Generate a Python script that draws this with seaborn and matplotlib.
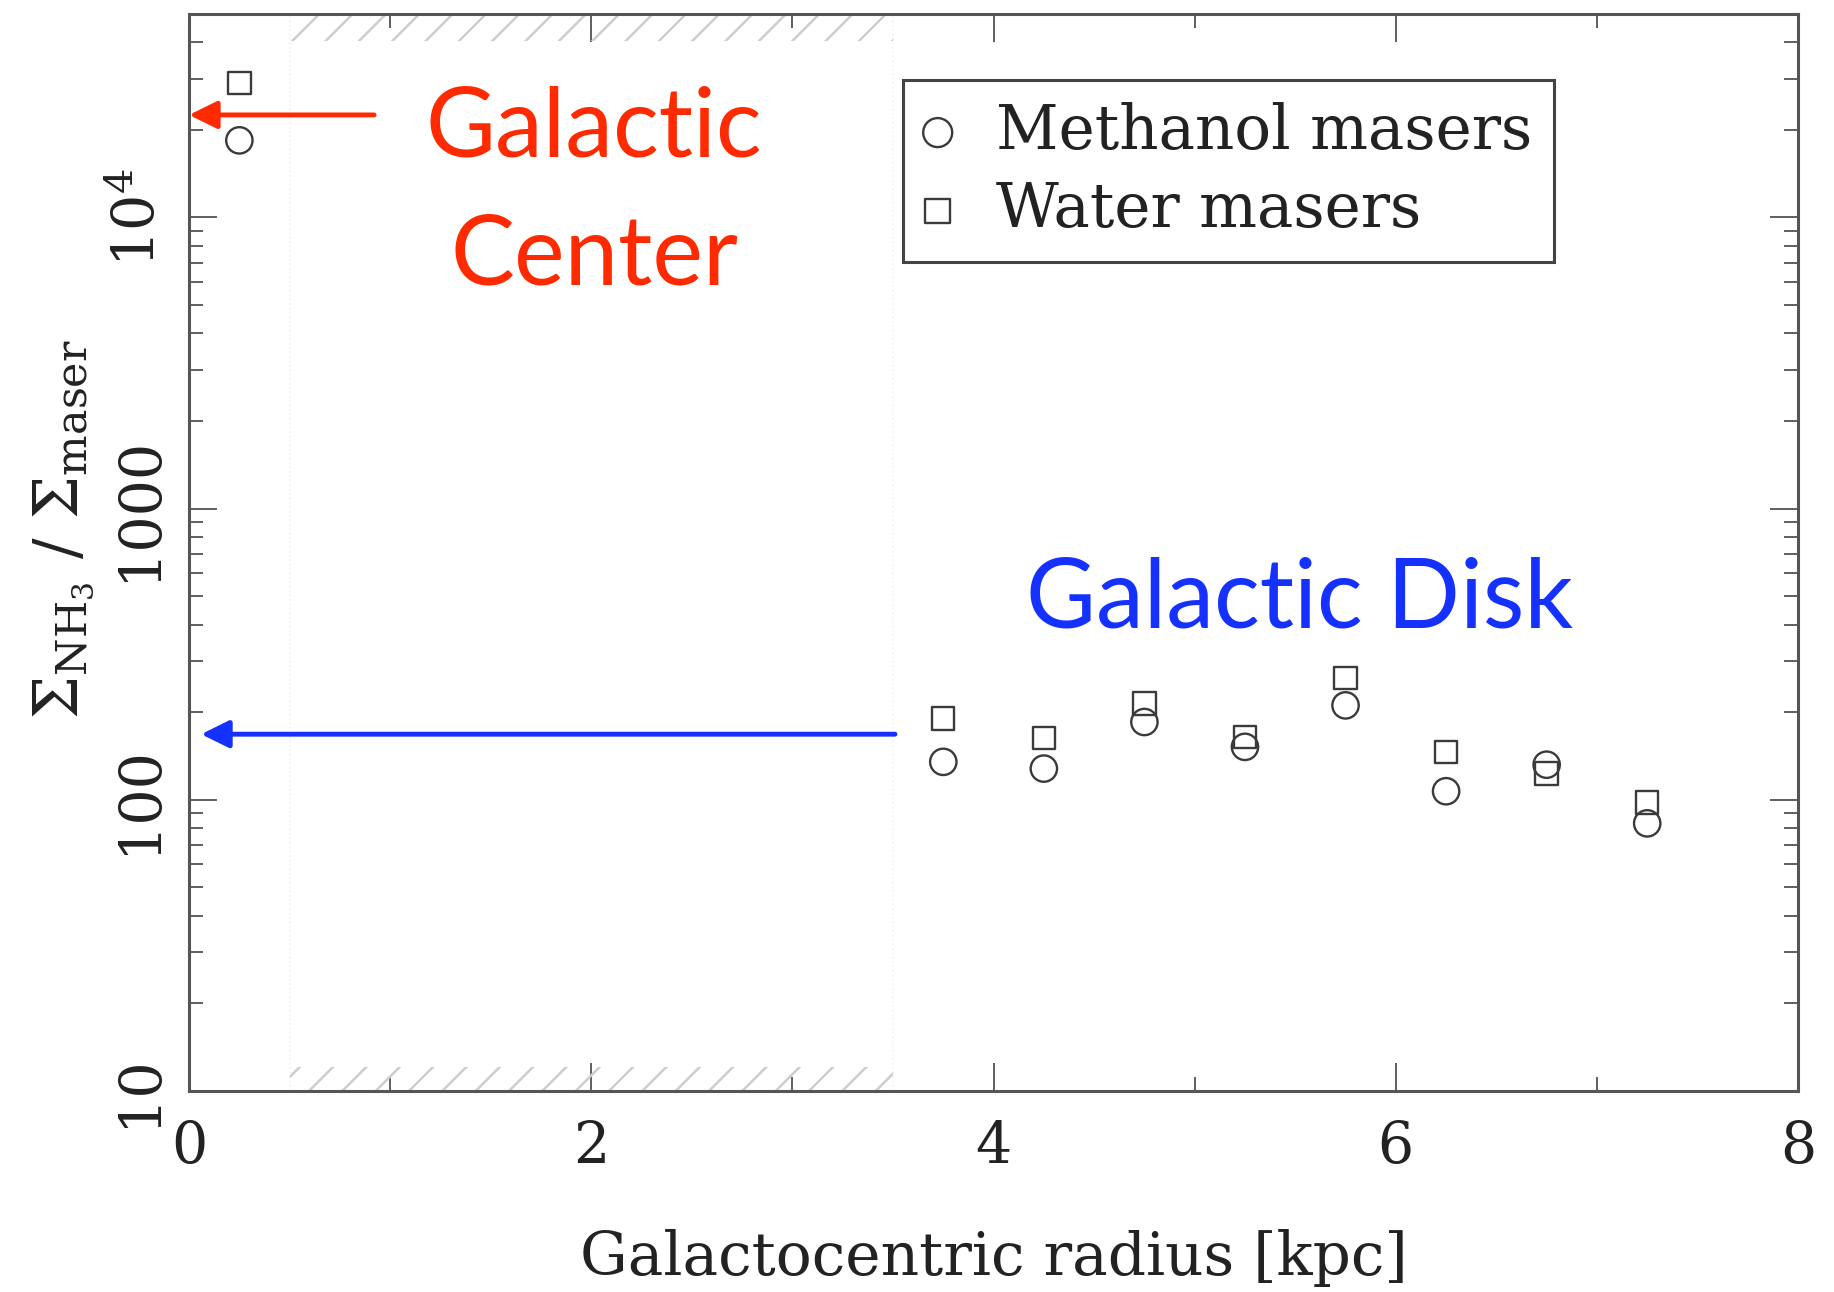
import numpy as np
import pandas as pd
import matplotlib
matplotlib.use("Agg")
import matplotlib.pyplot as plt
from matplotlib.ticker import FixedLocator, LogLocator, NullFormatter, FixedFormatter
import seaborn as sns

# ---- data ----
radius = [0.25, 3.75, 4.25, 4.75, 5.25, 5.75, 6.25, 6.75, 7.25]
methanol_ratio = [18400, 135, 128, 185, 152, 211, 107, 132, 83]
water_ratio = [29000, 190, 163, 214, 164, 262, 146, 123, 98]
series_labels = ["Methanol masers", "Water masers"]
x_ticks = [0, 2, 4, 6, 8]
x_tick_labels = ["0", "2", "4", "6", "8"]
y_ticks = [10, 100, 1000, 10000]
y_tick_labels = ["10", "100", "1000", r"10$^4$"]
gc_arrow_y = 22500
disk_arrow_y = 168

df_m = pd.DataFrame({"r": radius, "ratio": methanol_ratio})
df_w = pd.DataFrame({"r": radius, "ratio": water_ratio})

sns.set_theme(style="ticks")
plt.rcParams["font.family"] = ["DejaVu Serif"]
plt.rcParams["mathtext.fontset"] = "dejavuserif"
plt.rcParams["hatch.linewidth"] = 1.8

fig = plt.figure(figsize=(18.34, 12.92), dpi=100)
fig.patch.set_facecolor("white")
ax = fig.add_axes([0.1031, 0.1556, 0.8773, 0.8336])
ax.set_facecolor("white")

ink = "#3a3a3a"
sns.scatterplot(data=df_m, x="r", y="ratio", ax=ax, marker="o", s=360,
                facecolor="none", edgecolor=ink, linewidth=1.7,
                label=series_labels[0], legend=False, zorder=5)
sns.scatterplot(data=df_w, x="r", y="ratio", ax=ax, marker="s", s=260,
                facecolor="none", edgecolor=ink, linewidth=1.7,
                label=series_labels[1], legend=False, zorder=5)

ax.set_yscale("log")
ax.set_xlim(0, 8)
ax.set_ylim(10, 5e4)

# hatched bands and faint boundaries
hatch_grey = "#cdcdcd"
ax.axvspan(0.5, 3.5, ymin=0.975, ymax=1.0, facecolor="none", edgecolor=hatch_grey,
           hatch="/", lw=0, zorder=1)
ax.axvspan(0.5, 3.5, ymin=0.0, ymax=0.022, facecolor="none", edgecolor=hatch_grey,
           hatch="/", lw=0, zorder=1)
for xv in (0.5, 3.5):
    ax.axvline(xv, color="#f2f2f2", lw=1.2, ls=":", zorder=0)

# ticks
ax.xaxis.set_major_locator(FixedLocator(x_ticks))
ax.xaxis.set_major_formatter(FixedFormatter(x_tick_labels))
ax.xaxis.set_minor_locator(FixedLocator([1, 3, 5, 7]))
ax.yaxis.set_major_locator(FixedLocator(y_ticks))
ax.yaxis.set_major_formatter(FixedFormatter(y_tick_labels))
ax.yaxis.set_minor_locator(LogLocator(base=10, subs=np.arange(2, 10)))
ax.yaxis.set_minor_formatter(NullFormatter())

ax.tick_params(which="both", direction="in", top=True, right=True, color="#444444")
ax.tick_params(which="major", length=20, width=1.2, labelsize=41, labelcolor="#222222")
ax.tick_params(which="minor", length=10, width=1.2)
ax.tick_params(axis="x", which="major", pad=20)
ax.tick_params(axis="y", which="major", pad=16, labelrotation=90)
for lab in ax.get_yticklabels():
    lab.set_va("center")

for sp in ax.spines.values():
    sp.set_color("#555555")
    sp.set_linewidth(2.2)

ax.set_xlabel("Galactocentric radius [kpc]", fontsize=43, color="#222222")
ax.xaxis.set_label_coords(0.5, -0.128)
ax.set_ylabel(r"$\Sigma_{\rm NH_3}$ / $\Sigma_{\rm maser}$", fontsize=44, color="#222222")
ax.yaxis.set_label_coords(-0.058, 0.522)

# legend
leg = ax.legend(loc="upper left", bbox_to_anchor=(0.444, 0.939), borderaxespad=0,
                prop={"family": "DejaVu Serif", "size": 44}, frameon=True, fancybox=False,
                edgecolor="#444444", framealpha=1, borderpad=0.36, labelspacing=0.3,
                handlelength=0.4, handletextpad=0.75, scatterpoints=1, markerscale=1.1)
leg.get_frame().set_linewidth(2.2)
for t in leg.get_texts():
    t.set_color("#222222")

# annotations
red = "#ff2a00"
blue = "#1431ff"
ax.annotate("", xy=(0.0, gc_arrow_y), xytext=(0.92, gc_arrow_y),
            arrowprops=dict(arrowstyle="-|>,head_length=0.85,head_width=0.42",
                            color=red, lw=3.5, mutation_scale=20, shrinkA=0, shrinkB=0),
            zorder=6)
ax.annotate("", xy=(0.06, disk_arrow_y), xytext=(3.51, disk_arrow_y),
            arrowprops=dict(arrowstyle="-|>,head_length=0.85,head_width=0.42",
                            color=blue, lw=3.5, mutation_scale=20, shrinkA=0, shrinkB=0),
            zorder=6)
ax.text(0.2517, 0.868, "Galactic", transform=ax.transAxes, ha="center", va="baseline",
        fontsize=69, color=red, family="Lato")
ax.text(0.2517, 0.749, "Center", transform=ax.transAxes, ha="center", va="baseline",
        fontsize=69, color=red, family="Lato")
ax.text(0.520, 0.430, "Galactic Disk", transform=ax.transAxes, ha="left", va="baseline",
        fontsize=69, color=blue, family="Lato")

fig.savefig("out.png", dpi=100, facecolor="white")
